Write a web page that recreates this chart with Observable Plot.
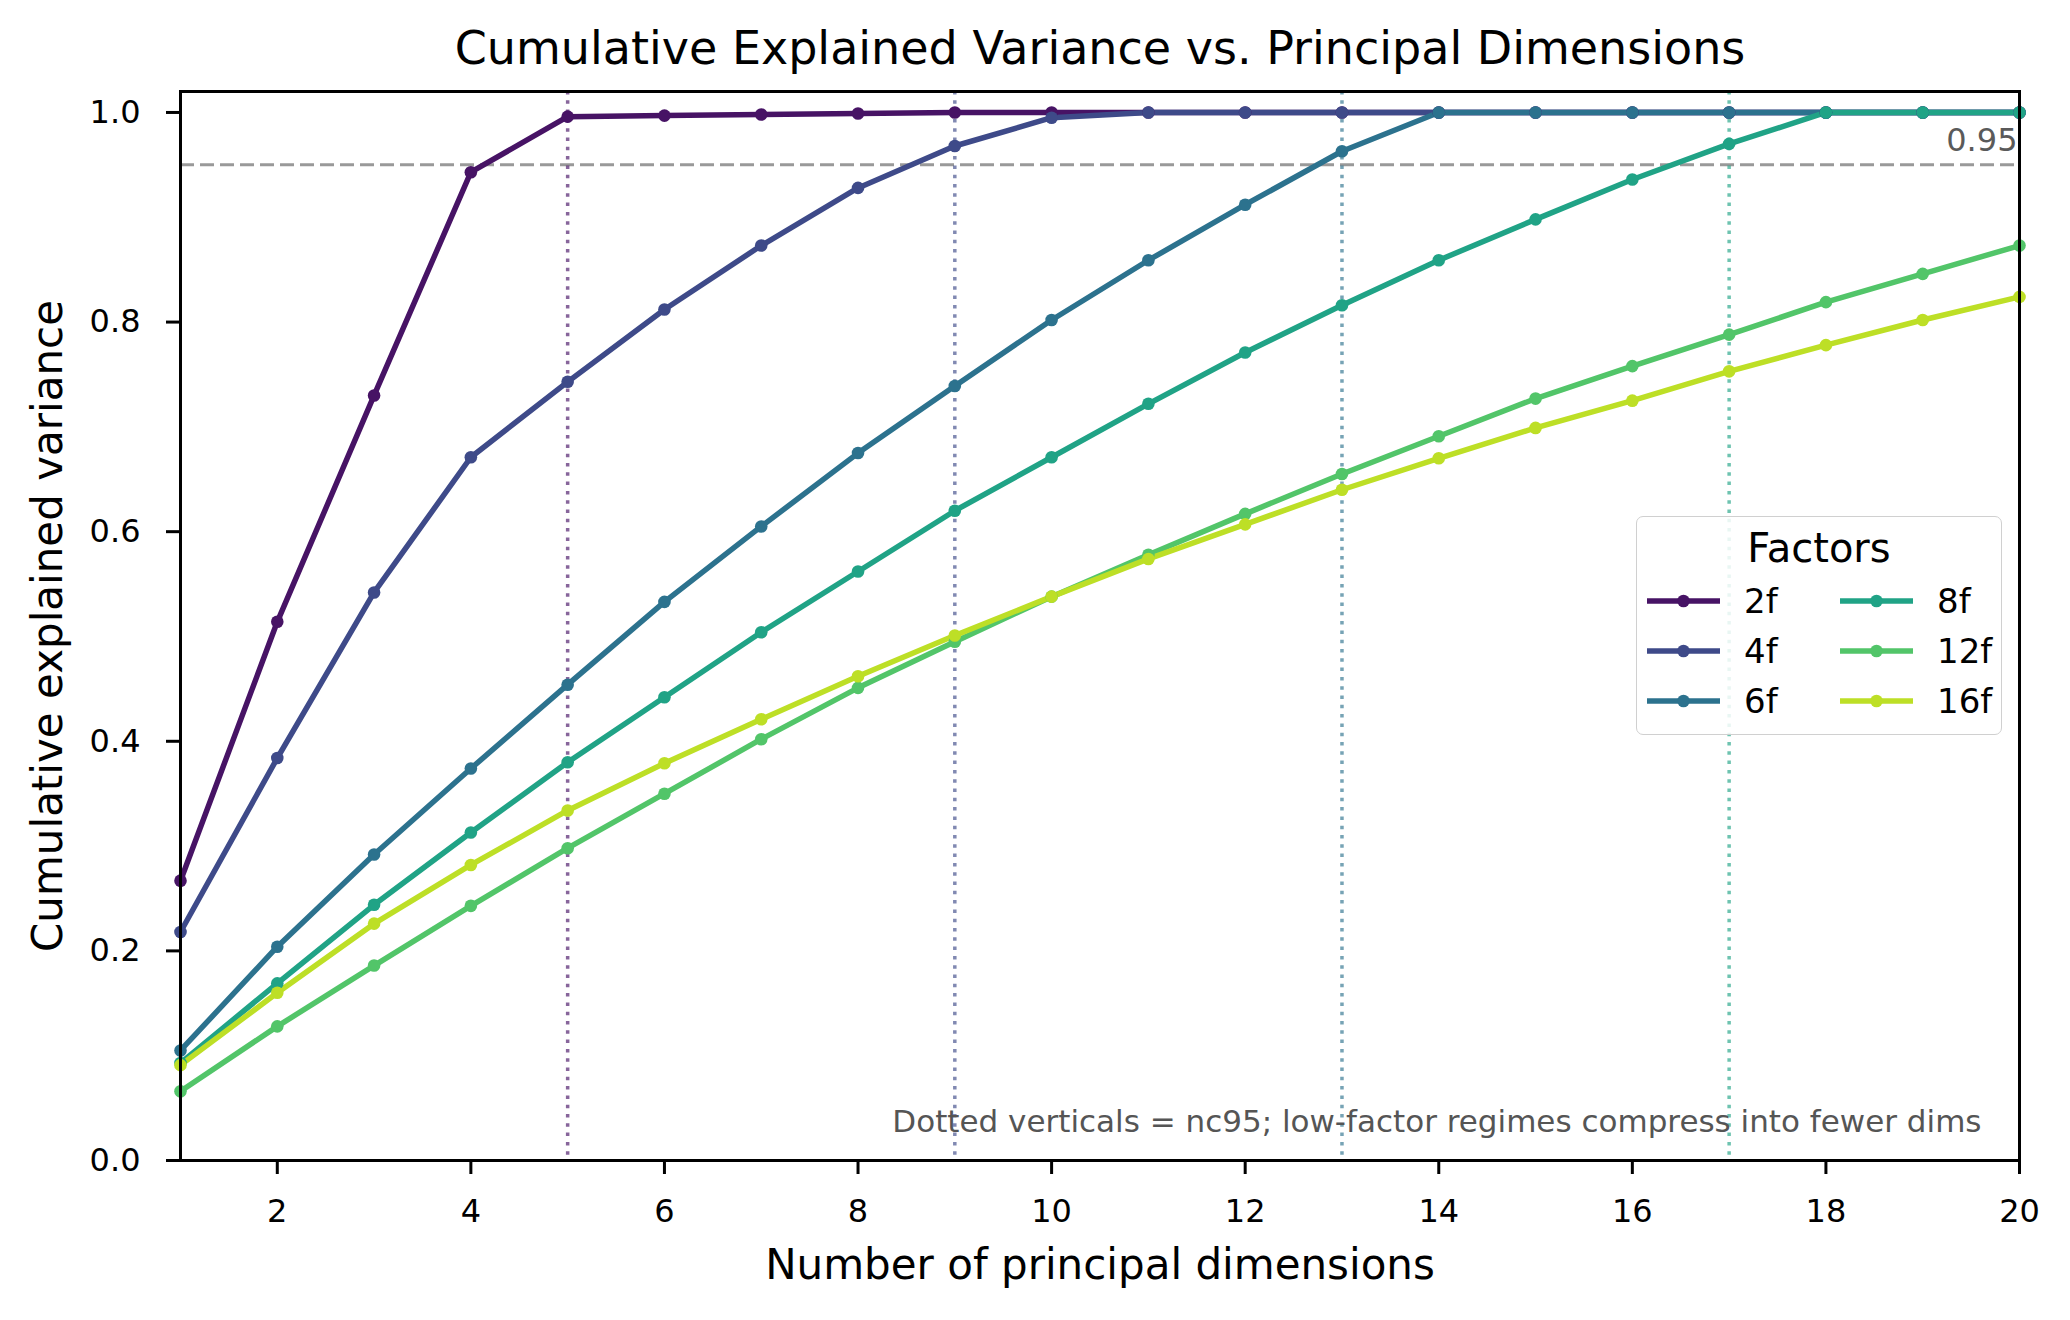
<!DOCTYPE html>
<html>
<head>
<meta charset="utf-8">
<script src="https://cdn.jsdelivr.net/npm/d3@7"></script>
<script src="https://cdn.jsdelivr.net/npm/@observablehq/plot@0.6"></script>
<style>
  html, body { margin: 0; padding: 0; background: #fff; }
  #wrap { position: relative; width: 2070px; height: 1320px; font-family: "DejaVu Sans", sans-serif; }
  #wrap > svg { position: absolute; left: 0; top: 0; }
  #legend { position: absolute; left: 1636px; top: 516px; width: 364px; height: 217px;
            border: 1.5px solid #d0d0d0; border-radius: 7px; background: rgba(255,255,255,0.85); }
  #legend svg { position: absolute; left: 0; top: 0; }
</style>
</head>
<body>
<div id="wrap"></div>
<script>
// ---- data ----
const dims = [1,2,3,4,5,6,7,8,9,10,11,12,13,14,15,16,17,18,19,20];
const factors = ["2f","4f","6f","8f","12f","16f"];
const f2  = [0.267,0.514,0.730,0.943,0.996,0.997,0.998,0.999,1.000,1.000,1.000,1.000,1.000,1.000,1.000,1.000,1.000,1.000,1.000,1.000];
const f4  = [0.218,0.384,0.542,0.671,0.743,0.812,0.873,0.928,0.968,0.995,1.000,1.000,1.000,1.000,1.000,1.000,1.000,1.000,1.000,1.000];
const f6  = [0.105,0.204,0.292,0.374,0.454,0.533,0.605,0.675,0.739,0.802,0.859,0.912,0.963,1.000,1.000,1.000,1.000,1.000,1.000,1.000];
const f8  = [0.093,0.169,0.244,0.313,0.380,0.442,0.504,0.562,0.620,0.671,0.722,0.771,0.816,0.859,0.898,0.936,0.970,1.000,1.000,1.000];
const f12 = [0.066,0.128,0.186,0.243,0.298,0.350,0.402,0.451,0.495,0.538,0.578,0.617,0.655,0.691,0.727,0.758,0.788,0.819,0.846,0.873];
const f16 = [0.091,0.160,0.226,0.282,0.334,0.379,0.421,0.462,0.501,0.538,0.574,0.607,0.640,0.670,0.699,0.725,0.753,0.778,0.802,0.824];
const seriesValues = [f2, f4, f6, f8, f12, f16];
const colors = ["#471365","#3e4a89","#2c728e","#20a386","#52c569","#bddf26"];
const nc95Factors = ["2f","4f","6f","8f"];
const nc95 = [5, 9, 13, 17];
const threshold = [0.95];
const xTicks = [2,4,6,8,10,12,14,16,18,20];
const yTicks = [0.0,0.2,0.4,0.6,0.8,1.0];
const title = "Cumulative Explained Variance vs. Principal Dimensions";
const xLabel = "Number of principal dimensions";
const yLabel = "Cumulative explained variance";
const note = "Dotted verticals = nc95; low-factor regimes compress into fewer dims";
const legendTitle = "Factors";

// ---- table ----
const rows = [];
factors.forEach((f, i) => dims.forEach((d, j) => rows.push({factor: f, dim: d, value: seriesValues[i][j]})));
const vlines = nc95.map((d, i) => ({factor: nc95Factors[i], dim: d}));

const font = "DejaVu Sans, sans-serif";

const chart = Plot.plot({
  width: 2070,
  height: 1320,
  marginLeft: 180,
  marginRight: 51,
  marginTop: 91,
  marginBottom: 160,
  style: {fontFamily: font, fontSize: "32px", background: "transparent", color: "#000"},
  x: {domain: [1, 20], label: null},
  y: {domain: [0, 1.02], label: null},
  color: {domain: factors, range: colors},
  marks: [
    Plot.ruleY(threshold, {y: d => d, stroke: "#999", strokeWidth: 3, strokeDasharray: "14,6"}),
    Plot.ruleX(vlines, {x: "dim", stroke: "factor", strokeOpacity: 0.65, strokeWidth: 3.5, strokeDasharray: "3.5,5.8"}),
    Plot.line(rows, {x: "dim", y: "value", z: "factor", stroke: "factor", strokeWidth: 5.5, strokeLinejoin: "round"}),
    Plot.dot(rows, {x: "dim", y: "value", fill: "factor", r: 6.3, stroke: "none"}),
    Plot.text(threshold, {y: d => d, frameAnchor: "right", textAnchor: "end", lineAnchor: "middle", dx: -2, dy: -24,
      text: d => d.toFixed(2), fill: "#5a5a5a", fontSize: 32}),
    Plot.text([note], {frameAnchor: "bottom-right", textAnchor: "end", lineAnchor: "middle", dx: -38, dy: -38,
      text: d => d, fill: "#555", fontSize: 31}),
    Plot.axisX({ticks: xTicks, tickSize: 14, tickPadding: 25, strokeWidth: 3, fontSize: 32, label: null}),
    Plot.axisY({ticks: yTicks, tickSize: 14, tickPadding: 26, strokeWidth: 3, fontSize: 32, tickFormat: d3.format(".1f"), label: null}),
    Plot.frame({stroke: "#000", strokeWidth: 3}),
    Plot.text([title], {frameAnchor: "top", lineAnchor: "middle", dy: -42, text: d => d, fontSize: 46, fill: "#000"}),
    Plot.text([xLabel], {frameAnchor: "bottom", lineAnchor: "middle", dy: 105, text: d => d, fontSize: 42, fill: "#000"}),
    Plot.text([yLabel], {frameAnchor: "left", textAnchor: "middle", lineAnchor: "middle", dx: -132, rotate: -90, text: d => d, fontSize: 42, fill: "#000"})
  ]
});

const wrap = document.getElementById("wrap");
wrap.appendChild(chart);

// ---- legend ----
const legend = document.createElement("div");
legend.id = "legend";
wrap.appendChild(legend);
const lsvg = d3.create("svg").attr("width", 364).attr("height", 217).style("font-family", font);
lsvg.append("text").attr("x", 182).attr("y", 45).attr("text-anchor", "middle")
  .attr("font-size", 40).attr("fill", "#000").text(legendTitle);
factors.forEach((f, i) => {
  const col = Math.floor(i / 3), row = i % 3;
  const x0 = 10 + col * 193, cy = 84 + row * 50;
  const g = lsvg.append("g");
  g.append("line").attr("x1", x0).attr("x2", x0 + 73).attr("y1", cy).attr("y2", cy)
    .attr("stroke", colors[i]).attr("stroke-width", 5.5);
  g.append("circle").attr("cx", x0 + 36.5).attr("cy", cy).attr("r", 6.3).attr("fill", colors[i]);
  g.append("text").attr("x", x0 + 97).attr("y", cy).attr("dy", "0.36em")
    .attr("font-size", 34).attr("fill", "#000").text(f);
});
legend.appendChild(lsvg.node());
</script>
</body>
</html>
